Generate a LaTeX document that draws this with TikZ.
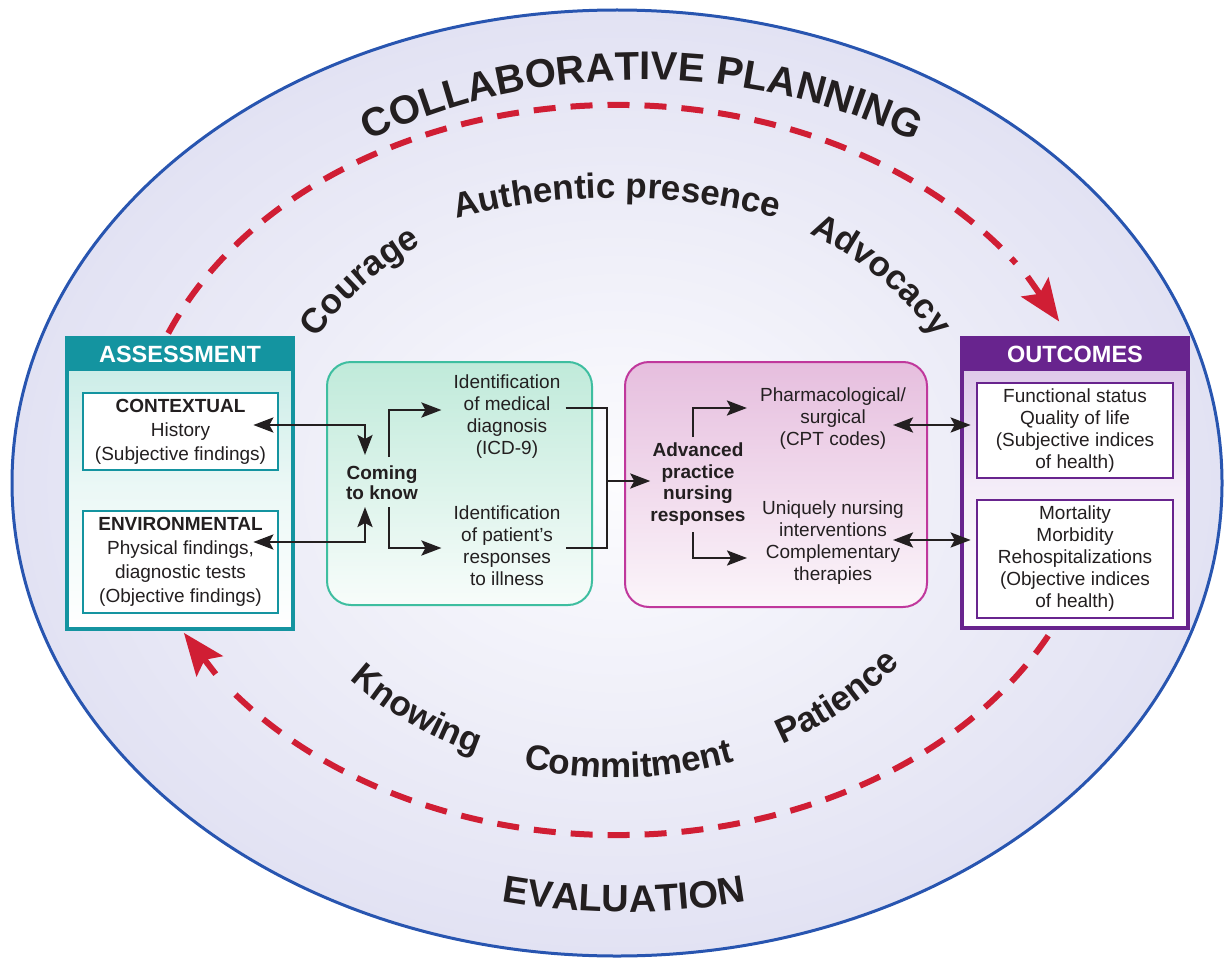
\documentclass[tikz,border=0pt]{standalone}
\usepackage{fontspec}
\setmainfont{Liberation Sans}
\usetikzlibrary{arrows.meta,decorations.text,calc}
\definecolor{ellblue}{RGB}{40,85,176}
\definecolor{lav}{RGB}{226,226,243}
\definecolor{lavc}{RGB}{252,252,254}
\definecolor{dred}{RGB}{208,30,52}
\definecolor{teal1}{RGB}{20,148,160}
\definecolor{teallt}{RGB}{196,234,228}
\definecolor{grn}{RGB}{62,190,160}
\definecolor{grnlt}{RGB}{192,234,218}
\definecolor{mag}{RGB}{192,56,156}
\definecolor{maglt}{RGB}{230,190,222}
\definecolor{purp}{RGB}{104,36,142}
\definecolor{purplt}{RGB}{216,192,230}
\definecolor{ink}{RGB}{35,31,32}
\newcommand{\bodyfs}{\fontsize{19}{22}\selectfont}
\newcommand{\headfs}{\fontsize{23.5}{26}\selectfont\bfseries}
\newcommand{\bigfs}{\fontsize{40}{40}\selectfont\bfseries}
\newcommand{\evalfs}{\fontsize{38}{38}\selectfont\bfseries}
\newcommand{\midfs}{\fontsize{35}{35}\selectfont\bfseries}
\begin{document}
\begin{tikzpicture}[x=1pt,y=1pt,
  body/.style={font=\bodyfs, text=ink, align=center, inner sep=2pt},
  boldtxt/.style={font=\fontsize{19}{21}\selectfont\bfseries, text=ink, align=center, inner sep=0pt},
  ibox/.style={draw=#1, fill=white, line width=2.7pt, inner sep=0pt, align=center, text=ink, font=\bodyfs},
  conn/.style={draw=ink, line width=2.8pt},
  arr/.style={conn, -{Stealth[length=20pt,width=15pt,inset=4pt]}},
  biarr/.style={conn, {Stealth[length=20pt,width=15pt,inset=4pt]}-{Stealth[length=20pt,width=15pt,inset=4pt]}},
  redarc/.style={draw=dred, line width=6pt, dash pattern=on 22pt off 15pt},
  redtip/.style={draw=dred, line width=6pt, -{Stealth[length=42pt,width=33pt,inset=8pt]}},
  arcword/.style={decorate, decoration={text along path, text align=center, text color=ink}},
]
\useasboundingbox (0,0) rectangle (1231,-963);

% big ellipse
\shade[inner color=lavc, outer color=lav] (617,-483) ellipse[x radius=605, y radius=473];
\draw[ellblue, line width=3pt] (617,-483) ellipse[x radius=605, y radius=473];

% red dashed arcs
\begin{scope}[shift={(617,-470)}]
\draw[redarc] (158:484 and 365) arc[start angle=158, end angle=34.5, x radius=484, y radius=365];
\draw[redtip] (32:484 and 365) -- (24:484 and 365);
\draw[redarc] (333:484 and 365) arc[start angle=333, end angle=216.5, x radius=484, y radius=365];
\draw[redtip] (214:484 and 365) -- (206.5:484 and 365);
\end{scope}

% curved titles
\begin{scope}[shift={(642,-470)}]
\path[arcword, decoration={text={|\bigfs|COLLABORATIVE PLANNING}}] (160:508 and 390) arc[start angle=160, end angle=20, x radius=508, y radius=390];
\end{scope}
\begin{scope}[shift={(624,-470)}]
\path[arcword, decoration={text={|\evalfs|EVALUATION}}] (235:560 and 442) arc[start angle=235, end angle=305, x radius=560, y radius=442];
\end{scope}

% curved words
\begin{scope}[shift={(617,-470)}]
\path[arcword, decoration={text={|\midfs|Courage}}] (165:342 and 274) arc[start angle=165, end angle=113, x radius=342, y radius=274];
\path[arcword, decoration={text={|\midfs|Authentic presence}}] (132:420 and 272) arc[start angle=132, end angle=48, x radius=420, y radius=272];
\path[arcword, decoration={text={|\midfs|Advocacy}}] (68:360 and 280) arc[start angle=68, end angle=16, x radius=360, y radius=280];
\path[arcword, decoration={text={|\midfs|Knowing}}] (209:365 and 308) arc[start angle=209, end angle=260, x radius=365, y radius=308];
\path[arcword, decoration={text={|\midfs|Commitment}}] (245:365 and 308) arc[start angle=245, end angle=299, x radius=365, y radius=308];
\path[arcword, decoration={text={|\midfs|Patience}}] (285:365 and 308) arc[start angle=285, end angle=334, x radius=365, y radius=308];
\end{scope}

% ASSESSMENT
\node[draw=teal1, line width=3.5pt, minimum width=226, minimum height=291, inner sep=0,
      top color=teallt, bottom color=white, middle color=teallt!35] (assess) at (180,-483.5) {};
\node[fill=teal1, minimum width=226, minimum height=35, inner sep=0, anchor=north, text=white, font=\headfs] (asshead) at (assess.north) {ASSESSMENT};
\node[ibox=teal1, minimum width=195, minimum height=77, font=\fontsize{19}{24}\selectfont] (ctx) at (180.5,-431.5) {\textbf{CONTEXTUAL}\\History\\(Subjective findings)};
\node[ibox=teal1, minimum width=195, minimum height=102, font=\fontsize{19}{24}\selectfont] (env) at (180.5,-562) {\textbf{ENVIRONMENTAL}\\Physical findings,\\diagnostic tests\\(Objective findings)};

% green box
\node[draw=grn, line width=2pt, rounded corners=24pt, top color=grnlt, bottom color=grnlt!12, minimum width=265, minimum height=243] (gbox) at (459.5,-483.5) {};
\node[boldtxt, font=\fontsize{19}{20}\selectfont\bfseries] (ctk) at (382,-483) {Coming\\to know};
\node[body] (idmed) at (507,-416.5) {Identification\\of medical\\diagnosis\\(ICD-9)};
\node[body] (idpat) at (507,-545.5) {Identification\\of patient’s\\responses\\to illness};

% pink box
\node[draw=mag, line width=2pt, rounded corners=24pt, top color=maglt, bottom color=maglt!15, minimum width=302, minimum height=245] (pbox) at (776,-484.5) {};
\node[boldtxt, font=\fontsize{19}{21.5}\selectfont\bfseries] (apn) at (698,-484) {Advanced\\practice\\nursing\\responses};
\node[body] (pharma) at (833,-419) {Pharmacological/\\surgical\\(CPT codes)};
\node[body] (uniq) at (833,-542.5) {Uniquely nursing\\interventions\\Complementary\\therapies};

% OUTCOMES
\node[draw=purp, line width=3.5pt, minimum width=226, minimum height=290, inner sep=0,
      top color=purplt, bottom color=white, middle color=purplt!30] (outc) at (1075,-483) {};
\node[fill=purp, minimum width=226, minimum height=35, inner sep=0, anchor=north, text=white, font=\headfs] (outhead) at (outc.north) {OUTCOMES};
\node[ibox=purp, minimum width=196, minimum height=95] (oc1) at (1075,-430.5) {Functional status\\Quality of life\\(Subjective indices\\of health)};
\node[ibox=purp, minimum width=196, minimum height=118] (oc2) at (1075,-559) {Mortality\\Morbidity\\Rehospitalizations\\(Objective indices\\of health)};

% connectors
\draw[biarr] ($(ctx.east)+(-26,6.5)$) -| ($(ctk.center)+(-17,28)$);
\draw[biarr] ($(env.east)+(-26,20)$) -| ($(ctk.center)+(-17,-24)$);
\draw[arr] ($(ctk.center)+(7,26)$) |- ($(idmed.west)+(-10,6.5)$);
\draw[arr] ($(ctk.center)+(7,-24)$) |- ($(idpat.west)+(-10,-2.5)$);
\coordinate (brk) at (607,-481);
\draw[conn] ($(idmed.east)+(3,8.5)$) -| (brk) |- ($(idpat.east)+(3,-2.5)$);
\draw[arr] (brk) -- (brk -| apn.west);
\draw[arr] ($(apn.center)+(-5,47)$) |- ($(pharma.west)+(-11,11)$);
\draw[arr] ($(apn.center)+(-5,-48)$) |- ($(uniq.west)+(-13,-15.5)$);
\draw[biarr] ($(pharma.center)+(60,-6)$) -- ($(oc1.west)+(-5,5.5)$);
\draw[biarr] ($(uniq.center)+(60,2.5)$) -- ($(oc2.west)+(-5,19)$);
\end{tikzpicture}
\end{document}
